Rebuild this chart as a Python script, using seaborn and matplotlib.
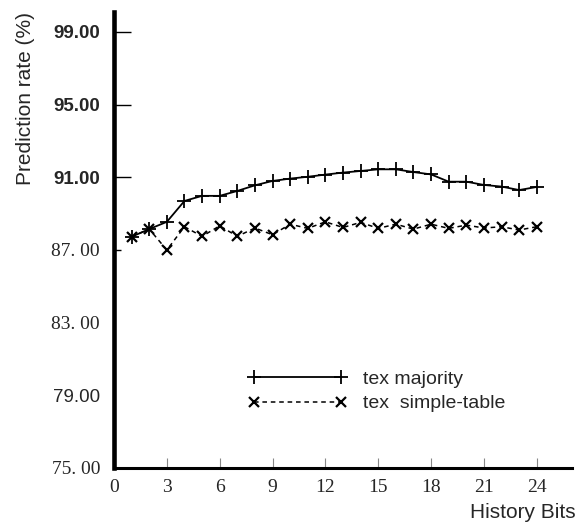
import matplotlib
matplotlib.use("Agg")
import matplotlib.pyplot as plt
from matplotlib.font_manager import FontProperties
import seaborn as sns
import pandas as pd

# History length (bits) and prediction rates (%) for the two predictors
history_bits = list(range(1, 25))
tex_majority = [87.73, 88.15, 88.55, 89.70, 89.98, 89.98, 90.25, 90.56,
                90.80, 90.93, 91.03, 91.15, 91.26, 91.35, 91.44, 91.44,
                91.29, 91.16, 90.76, 90.76, 90.58, 90.49, 90.30, 90.47]
tex_simple_table = [87.73, 88.15, 87.00, 88.28, 87.75, 88.33, 87.75, 88.21,
                    87.84, 88.42, 88.19, 88.55, 88.24, 88.52, 88.19, 88.42,
                    88.15, 88.42, 88.19, 88.37, 88.21, 88.28, 88.10, 88.28]

series_names = ["tex majority", "tex  simple-table"]
x_ticks = [0, 3, 6, 9, 12, 15, 18, 21, 24]
y_ticks = [75, 79, 83, 87, 91, 95, 99]
y_tick_labels = ["75. 00", "79.00", "83. 00", "87. 00", "91.00", "95.00", "99.00"]
x_label = "History Bits"
y_label = "Prediction rate (%)"

df = pd.DataFrame({"bits": history_bits,
                   "majority": tex_majority,
                   "simple": tex_simple_table})

sns.set_style("white")
plt.rcParams["font.family"] = ["Liberation Sans", "DejaVu Sans"]

fig = plt.figure(figsize=(5.87, 5.23), dpi=100)
ax = fig.add_axes([114 / 587, 1 - 468 / 523, 458 / 587, 456 / 523])

sns.lineplot(data=df, x="bits", y="majority", ax=ax, color="black",
             marker="+", markersize=10, markeredgewidth=1.3,
             markeredgecolor="black", linewidth=1.3,
             label=series_names[0])
sns.lineplot(data=df, x="bits", y="simple", ax=ax, color="black",
             marker="x", markersize=7, markeredgewidth=1.6,
             markeredgecolor="black", linewidth=1.1,
             linestyle=(0, (3, 2.5)), label=series_names[1])

ax.set_xlim(0, 26.0)
ax.set_ylim(75, 100.1)

# heavy left/bottom axes only
for side in ("top", "right"):
    ax.spines[side].set_visible(False)
ax.spines["left"].set_linewidth(3.3)
ax.spines["bottom"].set_linewidth(2.2)
ax.spines["left"].set_color("black")
ax.spines["bottom"].set_color("black")

ax.set_xticks(x_ticks)
ax.set_xticklabels([str(v) for v in x_ticks])
ax.set_yticks(y_ticks)
ax.set_yticklabels(y_tick_labels)

ax.tick_params(axis="x", direction="in", length=7, width=0.8, color="#888888",
               pad=8, bottom=True)
ax.tick_params(axis="y", direction="in", length=12, width=1.0, color="black",
               pad=10, left=True)

serif_fp = FontProperties(family="Liberation Serif", size=14)
for lab in ax.get_xticklabels():
    lab.set_fontproperties(serif_fp)

y_fonts = {
    75: FontProperties(family="Liberation Serif", size=14),
    79: FontProperties(family="Liberation Sans", size=13.5),
    83: FontProperties(family="Liberation Serif", size=14),
    87: FontProperties(family="Liberation Serif", size=14),
    91: FontProperties(family="Liberation Sans", weight="bold", size=13.5),
    95: FontProperties(family="Liberation Sans", weight="bold", size=13.5),
    99: FontProperties(family="Liberation Sans", weight="bold", size=13.5),
}
for val, tick, lab in zip(y_ticks, ax.yaxis.get_major_ticks(), ax.get_yticklabels()):
    lab.set_fontproperties(y_fonts[val])
    if val in (75, 79, 83):
        tick.tick1line.set_visible(False)
    elif val == 87:
        tick.tick1line.set_markersize(5)

ax.set_xlabel(x_label, fontsize=15)
ax.xaxis.set_label_coords(0.893, -0.0965)
ax.xaxis.label.set_va("center")

ax.set_ylabel(y_label, fontsize=15, rotation=90, va="center", ha="center",
              rotation_mode="default")
ax.yaxis.set_label_coords(-0.194, 0.811)

leg = ax.legend(loc="center left", bbox_to_anchor=(0.254, 0.168),
                frameon=False, numpoints=2, handlelength=5.1,
                handletextpad=0.8, labelspacing=0.35, fontsize=14,
                borderpad=0.4)

fig.savefig("out.png", dpi=100)
